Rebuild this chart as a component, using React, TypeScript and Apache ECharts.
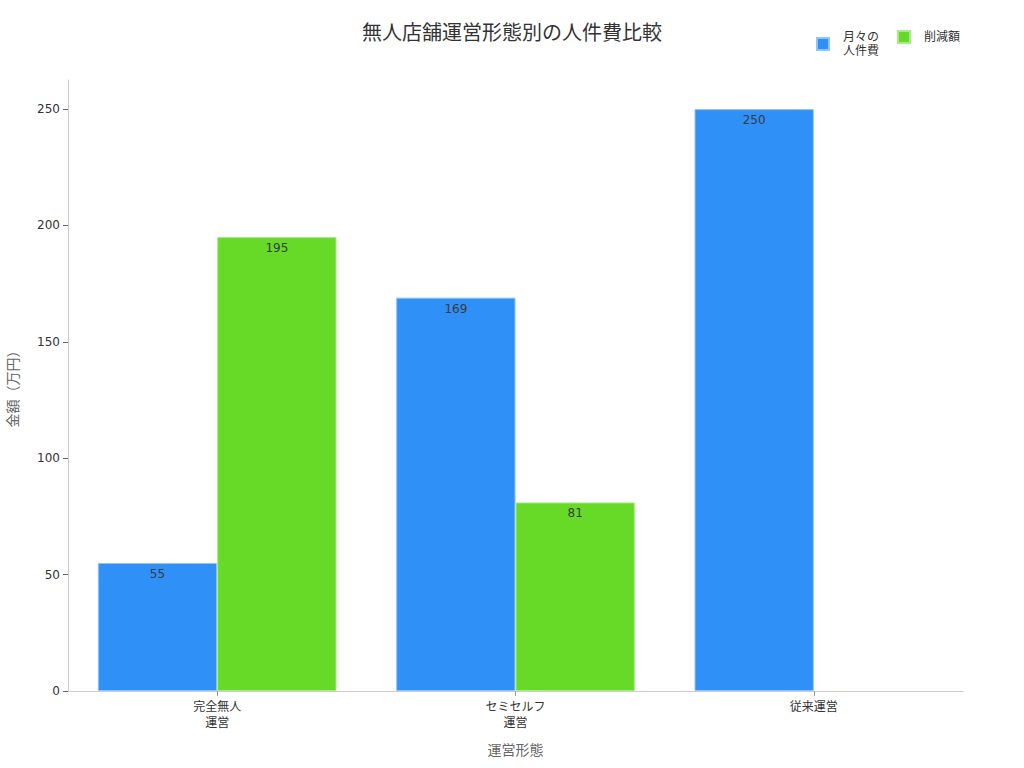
import * as echarts from "echarts";
import { useEffect, useRef } from "react";

const categories = ["完全無人\n運営", "セミセルフ\n運営", "従来運営"];
const monthlyCost = [55, 169, 250];
const reduction = [195, 81, null];
const seriesNames = ["月々の人件費", "削減額"];

const FONT = "'DejaVu Sans', 'Noto Sans CJK JP', sans-serif";

function App() {
  const chartRef = useRef<HTMLDivElement>(null);

  useEffect(() => {
    document.body.style.margin = "0";
    if (!chartRef.current) return;
    const chart = echarts.init(chartRef.current, null, { renderer: "svg" });

    const labelStyle = {
      show: true,
      position: "insideTop",
      distance: 5,
      color: "#3a3a3a",
      fontSize: 12,
      fontFamily: FONT,
    };

    const legendText = {
      fontSize: 12,
      color: "#333333",
      fontFamily: FONT,
      lineHeight: 14,
      padding: [0, 0, 0, 9],
    };

    chart.setOption({
      animation: false,
      backgroundColor: "#ffffff",
      textStyle: { fontFamily: FONT },
      title: {
        text: "無人店舗運営形態別の人件費比較",
        left: "center",
        top: 18,
        textStyle: {
          fontSize: 20,
          fontWeight: "normal",
          color: "#333333",
          fontFamily: FONT,
        },
      },
      legend: [
        {
          data: [seriesNames[0]],
          left: 811,
          top: 25,
          itemWidth: 12,
          itemHeight: 12,
          icon: "rect",
          textStyle: legendText,
          formatter: () => "月々の\n人件費",
        },
        {
          data: [seriesNames[1]],
          left: 892,
          top: 25,
          itemWidth: 12,
          itemHeight: 12,
          icon: "rect",
          textStyle: legendText,
        },
      ],
      grid: { left: 68, right: 61, top: 80, bottom: 77, outerBoundsMode: "none" },
      xAxis: {
        type: "category",
        data: categories,
        name: "運営形態",
        nameLocation: "middle",
        nameGap: 52,
        nameTextStyle: { fontSize: 14, color: "#666666", fontFamily: FONT },
        axisLine: { lineStyle: { color: "#cccccc" } },
        axisTick: { show: true, alignWithLabel: true, lineStyle: { color: "#999999" } },
        axisLabel: { fontSize: 12, color: "#333333", lineHeight: 16, fontFamily: FONT },
      },
      yAxis: {
        type: "value",
        min: 0,
        max: 262.5,
        interval: 50,
        name: "金額（万円）",
        nameLocation: "middle",
        nameGap: 48,
        nameRotate: 90,
        nameTextStyle: { fontSize: 14, color: "#666666", fontFamily: FONT },
        axisLine: { show: true, lineStyle: { color: "#cccccc" } },
        axisTick: { show: true, length: 5, lineStyle: { color: "#666666" } },
        axisLabel: {
          fontSize: 12,
          color: "#333333",
          fontFamily: FONT,
          showMaxLabel: false,
          formatter: (v: number) => (v % 50 === 0 ? String(v) : ""),
        },
        splitLine: { show: false },
      },
      series: [
        {
          name: seriesNames[0],
          type: "bar",
          data: monthlyCost,
          barGap: "0%",
          barCategoryGap: "20%",
          itemStyle: { color: "#2f90f8", borderColor: "#8cc4fb", borderWidth: 1 },
          label: labelStyle,
        },
        {
          name: seriesNames[1],
          type: "bar",
          data: reduction,
          barGap: "0%",
          barCategoryGap: "20%",
          itemStyle: { color: "#66da26", borderColor: "#a8ea85", borderWidth: 1 },
          label: labelStyle,
        },
      ],
    });

    return () => {
      chart.dispose();
    };
  }, []);

  return <div ref={chartRef} style={{ width: 1024, height: 768 }} />;
}

export default App;
